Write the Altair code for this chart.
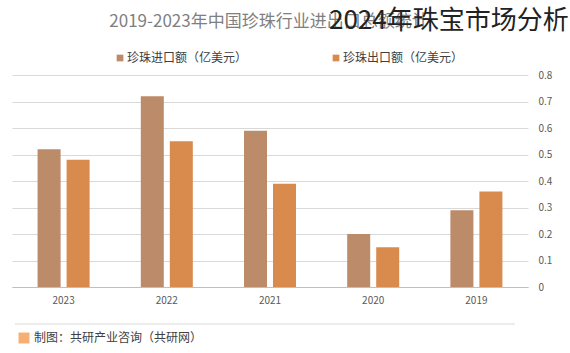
import altair as alt
import pandas as pd

years = ["2023", "2022", "2021", "2020", "2019"]
series = ["珍珠进口额（亿美元）", "珍珠出口额（亿美元）"]
import_vals = [0.52, 0.72, 0.59, 0.20, 0.29]
export_vals = [0.48, 0.55, 0.39, 0.15, 0.36]
colors = ["#BC8B6A", "#D88B4C"]
y_ticks = [0, 0.1, 0.2, 0.3, 0.4, 0.5, 0.6, 0.7, 0.8]

title_text = "2019-2023年中国珍珠行业进出口总额统计"
overlay_text = "2024年珠宝市场分析"
footer_text = "制图：共研产业咨询（共研网）"

FONT = "Noto Sans CJK SC"

rows = []
for i, y in enumerate(years):
    rows.append({"year": y, "series": series[0], "value": import_vals[i]})
    rows.append({"year": y, "series": series[1], "value": export_vals[i]})
df = pd.DataFrame(rows)

bars = alt.Chart(df).mark_bar().encode(
    x=alt.X("year:N", sort=years, title=None,
            scale=alt.Scale(paddingInner=0.496, paddingOuter=0.248),
            axis=alt.Axis(labelAngle=0, ticks=False, labelPadding=8, labelFontSize=10,
                          labelColor="#595959", labelFont=FONT, domainColor="#bfbfbf",
                          grid=False)),
    xOffset=alt.XOffset("series:N", sort=series,
                        scale=alt.Scale(paddingInner=0.207, paddingOuter=0)),
    y=alt.Y("value:Q", title=None,
            scale=alt.Scale(domain=[0, 0.8], nice=False),
            axis=alt.Axis(orient="right", values=y_ticks, domain=False, ticks=False,
                          labelPadding=10, labelFontSize=10, labelColor="#595959",
                          labelFont=FONT, gridColor="#d9d9d9",
                          labelExpr="datum.value == 0 ? '0' : format(datum.value, '.1f')")),
    color=alt.Color("series:N", sort=series,
                    scale=alt.Scale(domain=series, range=colors), legend=None),
)

# Title
title_df = pd.DataFrame({"t": [title_text]})
title = alt.Chart(title_df).mark_text(
    font=FONT, fontSize=17, color="#7f7f7f", align="center", baseline="middle"
).encode(text="t:N", x=alt.value(257), y=alt.value(-53))

overlay_df = pd.DataFrame({"t": [overlay_text]})
overlay = alt.Chart(overlay_df).mark_text(
    font=FONT, fontSize=26, color="#222222", align="left", baseline="middle"
).encode(text="t:N", x=alt.value(317), y=alt.value(-54))

# Legend (manual)
leg_df = pd.DataFrame({"series": series, "lx": [108, 324]})
leg_marks = alt.Chart(leg_df).mark_square(size=45, opacity=1).encode(
    x=alt.X("lx:Q", scale=None), y=alt.value(-17),
    color=alt.Color("series:N", scale=alt.Scale(domain=series, range=colors), legend=None),
)
leg_text = alt.Chart(leg_df).mark_text(
    font=FONT, fontSize=12, color="#404040", align="left", baseline="middle", dx=7
).encode(x=alt.X("lx:Q", scale=None), y=alt.value(-17), text="series:N")

# Footer
sep_df = pd.DataFrame({"a": [0]})
sep = alt.Chart(sep_df).mark_rule(color="#d9d9d9", strokeWidth=1).encode(
    x=alt.value(3), x2=alt.value(503), y=alt.value(249)
)
icon = alt.Chart(sep_df).mark_square(size=120, color="#F4A15A", opacity=0.85).encode(
    x=alt.value(12), y=alt.value(263)
)
foot_df = pd.DataFrame({"t": [footer_text]})
footer = alt.Chart(foot_df).mark_text(
    font=FONT, fontSize=12, color="#404040", align="left", baseline="middle"
).encode(text="t:N", x=alt.value(22), y=alt.value(263))

chart = alt.layer(bars, title, overlay, leg_marks, leg_text, sep, icon, footer).resolve_scale(
    color="independent"
).properties(
    width=516, height=212,
    autosize=alt.AutoSizeParams(type="none"),
    padding={"left": 12, "top": 75, "right": 42, "bottom": 66},
    background="white",
).configure_view(stroke=None)

chart.save("out.html", embed_options={"renderer": "svg", "actions": False})
